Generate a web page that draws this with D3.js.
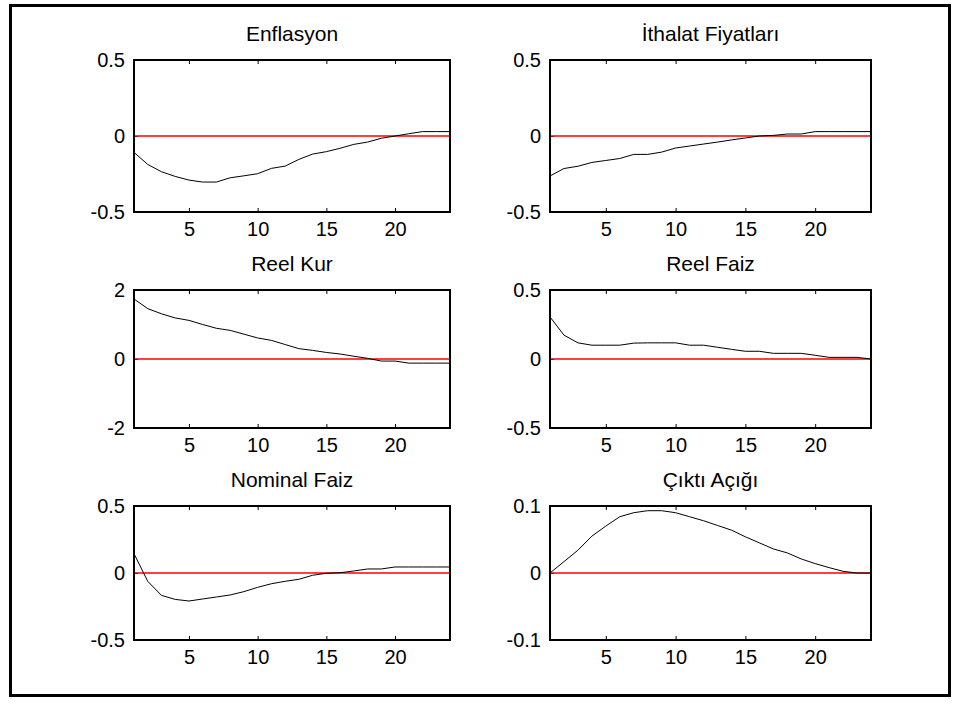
<!DOCTYPE html>
<html>
<head>
<meta charset="utf-8">
<script src="https://cdn.jsdelivr.net/npm/d3@7"></script>
<style>
  body { margin: 0; background: #fff; }
  svg { display: block; font-family: "Liberation Sans", Arial, sans-serif; }
</style>
</head>
<body>
<div id="chart"></div>
<script>
// Dönem (1..24)
const periods = d3.range(1, 25);
const xTicks = [5, 10, 15, 20];

const titles = ["Enflasyon", "İthalat Fiyatları", "Reel Kur", "Reel Faiz", "Nominal Faiz", "Çıktı Açığı"];

// Etki-tepki değerleri
const enflasyon = [-0.108, -0.187, -0.235, -0.266, -0.29, -0.303, -0.303, -0.275, -0.262, -0.248, -0.213, -0.198,
    -0.154, -0.119, -0.103, -0.081, -0.055, -0.04, -0.015, 0.0, 0.015, 0.029, 0.029, 0.029];
const ithalat = [-0.263, -0.214, -0.199, -0.174, -0.161, -0.148, -0.121, -0.121, -0.106, -0.079, -0.066, -0.053,
    -0.04, -0.026, -0.013, 0.0, 0.004, 0.013, 0.013, 0.029, 0.029, 0.029, 0.029, 0.029];
const reelKur = [1.74, 1.46, 1.31, 1.19, 1.12, 1.0, 0.89, 0.83, 0.72, 0.61, 0.54, 0.42,
    0.30, 0.25, 0.19, 0.145, 0.08, 0.02, -0.06, -0.06, -0.12, -0.12, -0.12, -0.12];
const reelFaiz = [0.305, 0.173, 0.117, 0.10, 0.10, 0.10, 0.115, 0.117, 0.117, 0.117, 0.10, 0.10,
    0.085, 0.07, 0.056, 0.056, 0.041, 0.041, 0.041, 0.027, 0.012, 0.012, 0.012, 0.0];
const nominalFaiz = [0.144, -0.062, -0.167, -0.197, -0.209, -0.194, -0.179, -0.164, -0.139, -0.107, -0.08, -0.062,
    -0.047, -0.017, -0.002, 0.002, 0.015, 0.03, 0.03, 0.045, 0.045, 0.045, 0.045, 0.045];
const ciktiAcigi = [0.0, 0.017, 0.034, 0.055, 0.07, 0.084, 0.09, 0.093, 0.093, 0.09, 0.084, 0.078,
    0.071, 0.064, 0.054, 0.045, 0.036, 0.03, 0.021, 0.014, 0.008, 0.0025, 0.0, 0.0];

const seriesValues = [enflasyon, ithalat, reelKur, reelFaiz, nominalFaiz, ciktiAcigi];

// Y ekseni sınırları ve etiketleri
const yTicks = [[-0.5, 0, 0.5], [-0.5, 0, 0.5], [-2, 0, 2], [-0.5, 0, 0.5], [-0.5, 0, 0.5], [-0.1, 0, 0.1]];

// Yerleşim
const width = 955, height = 720;
const cols = [[134, 450], [550, 871]];
const rows = [[60, 212], [290, 428], [506, 640]];

const svg = d3.select("#chart")
    .append("svg")
    .attr("width", width)
    .attr("height", height);

// Dış çerçeve
svg.append("rect")
    .attr("x", 10.5)
    .attr("y", 5.5)
    .attr("width", 939)
    .attr("height", 690)
    .attr("fill", "none")
    .attr("stroke", "#000")
    .attr("stroke-width", 3);

seriesValues.forEach((values, i) => {
    const [x0, x1] = cols[i % 2];
    const [y0, y1] = rows[Math.floor(i / 2)];
    const ticks = yTicks[i];

    const x = d3.scaleLinear().domain([1, 24]).range([x0, x1]);
    const y = d3.scaleLinear().domain([ticks[0], ticks[2]]).range([y1, y0]);

    const g = svg.append("g");

    // Başlık
    g.append("text")
        .attr("x", (x0 + x1) / 2)
        .attr("y", y0 - 19)
        .attr("text-anchor", "middle")
        .attr("font-size", "21px")
        .attr("fill", "#000")
        .text(titles[i]);

    // Eksenler (içe doğru çentikler)
    const bottom = g.append("g")
        .attr("transform", `translate(0,${y1})`)
        .call(d3.axisBottom(x).tickValues(xTicks).tickSizeInner(-4).tickSizeOuter(0).tickPadding(10));
    const top = g.append("g")
        .attr("transform", `translate(0,${y0})`)
        .call(d3.axisTop(x).tickValues(xTicks).tickSizeInner(-4).tickSizeOuter(0).tickFormat(""));
    const left = g.append("g")
        .attr("transform", `translate(${x0},0)`)
        .call(d3.axisLeft(y).tickValues(ticks).tickSizeInner(-4).tickSizeOuter(0).tickPadding(9)
            .tickFormat(d => String(d)));

    [bottom, top, left].forEach(a => {
        a.select(".domain").remove();
        a.selectAll("text").attr("font-size", "20px").attr("fill", "#000")
            .attr("font-family", "'Liberation Sans', Arial, sans-serif");
        a.selectAll("line").attr("stroke", "#000");
    });

    // Sıfır çizgisi
    g.append("line")
        .attr("x1", x(1))
        .attr("x2", x(24))
        .attr("y1", y(0))
        .attr("y2", y(0))
        .attr("stroke", "#ff0000")
        .attr("stroke-width", 1.3);

    // Tepki eğrisi
    const line = d3.line()
        .x((d, j) => x(periods[j]))
        .y(d => y(d));

    g.append("path")
        .datum(values)
        .attr("d", line)
        .attr("fill", "none")
        .attr("stroke", "#000")
        .attr("stroke-width", 1);

    // Grafik kutusu
    g.append("rect")
        .attr("x", x0)
        .attr("y", y0)
        .attr("width", x1 - x0)
        .attr("height", y1 - y0)
        .attr("fill", "none")
        .attr("stroke", "#000")
        .attr("stroke-width", 2);
});
</script>
</body>
</html>
